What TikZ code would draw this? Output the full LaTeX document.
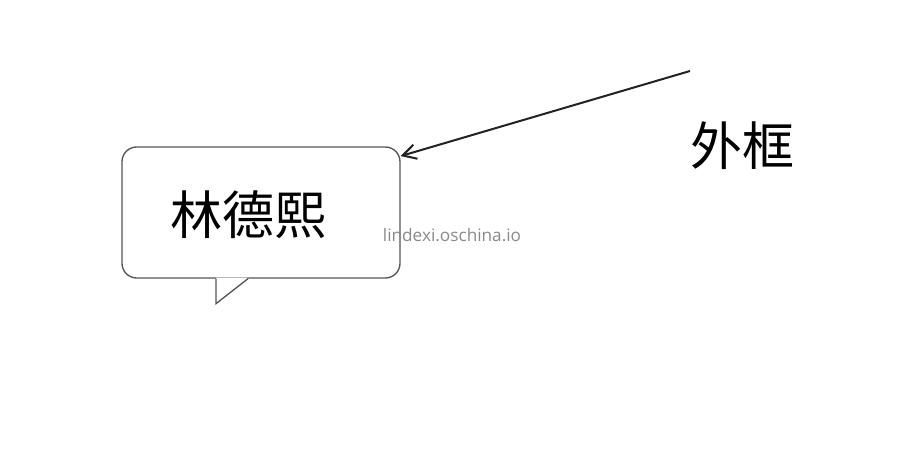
\documentclass[tikz,border=0pt]{standalone}
\usepackage{fontspec}
\newfontfamily\cjk{Noto Sans CJK SC}
\newfontfamily\markfont{Open Sans}
\usepackage{tikz}
\usetikzlibrary{arrows.meta}
\definecolor{boxGray}{HTML}{555555}
\definecolor{arrowInk}{HTML}{222222}
\definecolor{markGray}{HTML}{8A8A8A}

\begin{document}
\begin{tikzpicture}[x=0.75pt, y=-0.75pt,
  bigtext/.style={font=\cjk\fontsize{39}{39}\selectfont, inner sep=0pt},
  outline/.style={boxGray, line width=1pt}]
  \useasboundingbox (0,0) rectangle (907,471);
  % speech bubble
  \node[draw, outline, rounded corners=11pt, minimum width=208.5pt, minimum height=98.25pt, inner sep=0pt] (bubble) at (261,212.5) {};
  \fill[white] ([shift={(-45,-1)}]bubble.south) -- ([shift={(-45,25)}]bubble.south) -- ([shift={(-13,-1)}]bubble.south) -- cycle;
  \draw[outline, line join=miter] ([shift={(-45,0)}]bubble.south) -- ++(0,25) -- ([shift={(-13,0)}]bubble.south);
  \node[bigtext] (name) at (248,215) {林德熙};
  % watermark
  \node[font=\markfont\fontsize{12.9}{13}\selectfont, text=markGray, inner sep=0pt] (mark) at (452,235) {lindexi.oschina.io};
  % label and arrow
  \node[bigtext] (label) at (742,146) {外框};
  \coordinate (from) at (690,71);
  \draw[arrowInk, line width=1.5pt, -{Straight Barb[length=10pt,width=11pt]}] (from) -- (bubble.22);
\end{tikzpicture}
\end{document}
